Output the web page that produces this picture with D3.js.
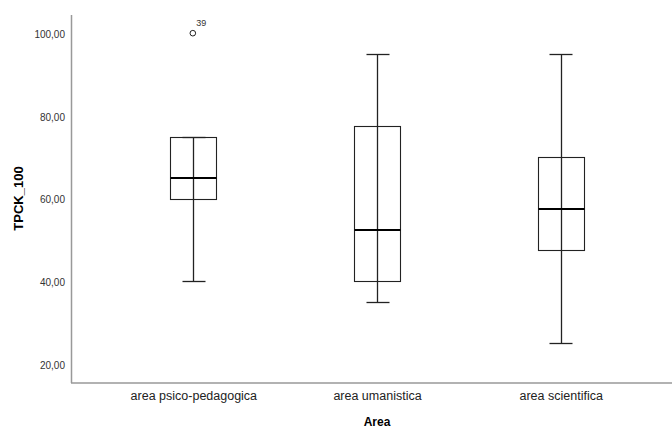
<!DOCTYPE html>
<html><head><meta charset="utf-8">
<script src="https://cdn.jsdelivr.net/npm/d3@7"></script>
<style>body{margin:0;background:#fff}svg{display:block}text{font-family:"Liberation Sans",Arial,sans-serif}</style>
</head><body><svg id="c" width="672" height="430"></svg>
<script>
const categories = ["area psico-pedagogica", "area umanistica", "area scientifica"];
const whiskerLow = [40, 35, 25];
const q1 = [60, 40, 47.5];
const median = [65, 52.5, 57.5];
const q3 = [75, 77.5, 70];
const whiskerHigh = [75, 95, 95];
const outliers = [{cat: "area psico-pedagogica", value: 100, label: "39"}];
const yTicks = [20, 40, 60, 80, 100];
const yTitle = "TPCK_100";
const xTitle = "Area";

const svg = d3.select("#c");
const L = 71, R = 683, T = 15, B = 382.5;
const x = d3.scalePoint().domain(categories).range([L, R]).padding(0.666);
const y = d3.scaleLinear().domain([15.5, 104.4]).range([B, T]);
const boxW = 46;

// axes lines
svg.append("line").attr("x1", L + 0.5).attr("x2", L + 0.5).attr("y1", T).attr("y2", B + 0.5)
  .attr("stroke", "#999").attr("stroke-width", 1.5);
svg.append("line").attr("x1", L).attr("x2", 672).attr("y1", B + 0.5).attr("y2", B + 0.5)
  .attr("stroke", "#999").attr("stroke-width", 1.5);

const yAxis = d3.axisLeft(y).tickValues(yTicks).tickSize(0).tickPadding(6)
  .tickFormat(d => d3.format(".2f")(d).replace(".", ","));
const gy = svg.append("g").attr("transform", `translate(${L},1)`).call(yAxis);
gy.select(".domain").remove();
gy.selectAll("text").attr("font-size", 10).attr("fill", "#333").style("font-family", '"Liberation Sans",Arial,sans-serif');

const xAxis = d3.axisBottom(x).tickSize(0).tickPadding(9);
const gx = svg.append("g").attr("transform", `translate(0,${B})`).call(xAxis);
gx.select(".domain").remove();
gx.selectAll("text").attr("font-size", 12.5).attr("fill", "#222").style("font-family", '"Liberation Sans",Arial,sans-serif');

// boxes
const data = categories.map((c, i) => ({c, lo: whiskerLow[i], q1: q1[i], med: median[i], q3: q3[i], hi: whiskerHigh[i]}));
const g = svg.append("g");
const r = v => Math.round(v) + 0.5;
data.forEach(d => {
  const cx = x(d.c);
  const xc = r(cx);
  g.append("line").attr("x1", xc).attr("x2", xc).attr("y1", r(y(d.hi))).attr("y2", r(y(d.lo)))
    .attr("stroke", "#222").attr("stroke-width", 1.3);
  g.append("rect").attr("x", r(cx - boxW / 2)).attr("y", r(y(d.q3)))
    .attr("width", boxW).attr("height", Math.round(y(d.q1)) - Math.round(y(d.q3)))
    .attr("fill", "none").attr("stroke", "#222").attr("stroke-width", 1.1);
  g.append("line").attr("x1", r(cx - boxW / 2)).attr("x2", r(cx + boxW / 2))
    .attr("y1", Math.round(y(d.med))).attr("y2", Math.round(y(d.med)))
    .attr("stroke", "#000").attr("stroke-width", 2);
  [d.lo, d.hi].forEach(v => {
    g.append("line").attr("x1", r(cx - boxW / 4)).attr("x2", r(cx + boxW / 4))
      .attr("y1", r(y(v))).attr("y2", r(y(v))).attr("stroke", "#222").attr("stroke-width", 1.3);
  });
});

outliers.forEach(o => {
  g.append("circle").attr("cx", x(o.cat) - 0.5).attr("cy", y(o.value)).attr("r", 2.8)
    .attr("fill", "none").attr("stroke", "#222").attr("stroke-width", 1);
  g.append("text").attr("x", x(o.cat) + 3).attr("y", y(o.value) - 7)
    .attr("font-size", 9).attr("fill", "#333").text(o.label);
});

svg.append("text").attr("transform", `translate(23,${y(60)}) rotate(-90)`)
  .attr("text-anchor", "middle").attr("font-size", 13).attr("font-weight", "bold").attr("fill", "#000").text(yTitle);
svg.append("text").attr("x", x(categories[1])).attr("y", 426)
  .attr("text-anchor", "middle").attr("font-size", 12).attr("font-weight", "bold").attr("fill", "#000").text(xTitle);
</script></body></html>
